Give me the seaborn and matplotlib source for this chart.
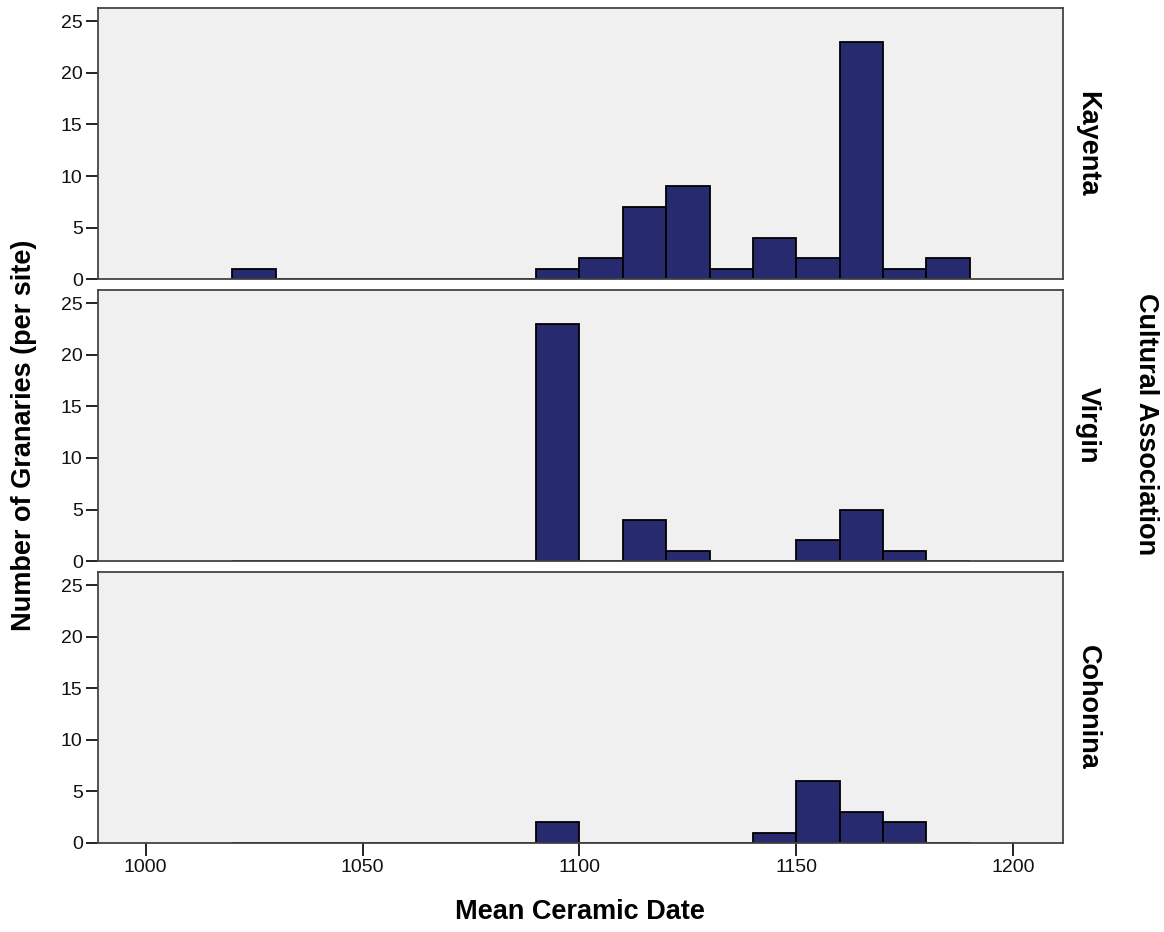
import numpy as np
import pandas as pd
import matplotlib
matplotlib.use("Agg")
import matplotlib.pyplot as plt
import seaborn as sns

# Histogram counts per 10-year bin (bin start year -> number of granaries)
associations = ["Kayenta", "Virgin", "Cohonina"]

kayenta_bins = [1020, 1090, 1100, 1110, 1120, 1130, 1140, 1150, 1160, 1170, 1180]
kayenta_counts = [1, 1, 2, 7, 9, 1, 4, 2, 23, 1, 2]

virgin_bins = [1090, 1110, 1120, 1150, 1160, 1170]
virgin_counts = [23, 4, 1, 2, 5, 1]

cohonina_bins = [1090, 1140, 1150, 1160, 1170]
cohonina_counts = [2, 1, 6, 3, 2]

x_ticks = [1000, 1050, 1100, 1150, 1200]
y_ticks = [0, 5, 10, 15, 20, 25]

BIN_WIDTH = 10
rows = []
for name, bins, counts in [
    ("Kayenta", kayenta_bins, kayenta_counts),
    ("Virgin", virgin_bins, virgin_counts),
    ("Cohonina", cohonina_bins, cohonina_counts),
]:
    for b, c in zip(bins, counts):
        rows.append({"assoc": name, "date": b + BIN_WIDTH / 2, "count": c})
df = pd.DataFrame(rows)

sns.set_style("ticks")
plt.rcParams["font.family"] = ["Liberation Sans", "DejaVu Sans"]

bar_color = "#282a70"
panel_bg = "#f0f0f0"
spine_color = "#444444"
LABEL_SIZE = 19.5
TICK_SIZE = 14

g = sns.FacetGrid(df, row="assoc", row_order=associations, sharex=True, sharey=True,
                  margin_titles=True, height=3, aspect=3.2, despine=False)


def draw_hist(data, **kws):
    ax = plt.gca()
    sns.histplot(data=data, x="date", weights="count",
                 binwidth=BIN_WIDTH, binrange=(1020, 1190),
                 color=bar_color, edgecolor="black", linewidth=1.3,
                 alpha=1.0, ax=ax)


g.map_dataframe(draw_hist)

g.figure.set_size_inches(11.64, 9.32)
g.figure.subplots_adjust(left=0.0842, right=0.9132, top=0.9914, bottom=0.0955, hspace=0.04)

g.set_titles(row_template="{row_name}", col_template="")

for i, ax in enumerate(g.axes.flat):
    ax.set_facecolor(panel_bg)
    ax.set_xlim(989, 1211.5)
    ax.set_ylim(0, 26.3)
    ax.set_yticks(y_ticks)
    ax.set_yticklabels([str(v) for v in y_ticks], fontsize=TICK_SIZE, color="#111111")
    ax.set_xticks(x_ticks)
    ax.set_xlabel("")
    ax.set_ylabel("")
    for sp in ax.spines.values():
        sp.set_color(spine_color)
        sp.set_linewidth(1.3)
    ax.tick_params(axis="y", length=9, width=1.4, color="#222222", pad=2)
    if i < 2:
        ax.tick_params(axis="x", length=0, labelbottom=False)
    else:
        ax.set_xticklabels([str(v) for v in x_ticks], fontsize=TICK_SIZE, color="#111111")
        ax.tick_params(axis="x", length=9, width=1.4, color="#222222", pad=2.5)

# Facet labels on the right margin
for ax in g.axes.flat:
    for t in ax.texts:
        t.set_fontsize(LABEL_SIZE)
        t.set_fontweight("bold")
        t.set_color("black")
        t.set_rotation(270)
        t.set_position((1.012, 0.5))

g.figure.text(0.9845, 0.545, "Cultural Association", rotation=270, ha="center", va="center",
              fontsize=LABEL_SIZE, fontweight="bold", color="black")
g.figure.text(0.021, 0.533, "Number of Granaries (per site)", rotation=90, ha="center",
              va="center", fontsize=LABEL_SIZE, fontweight="bold", color="black")
g.figure.text(0.4985, 0.0215, "Mean Ceramic Date", ha="center", va="center",
              fontsize=LABEL_SIZE, fontweight="bold", color="black")

g.figure.savefig("out.png", dpi=100, facecolor="white")
